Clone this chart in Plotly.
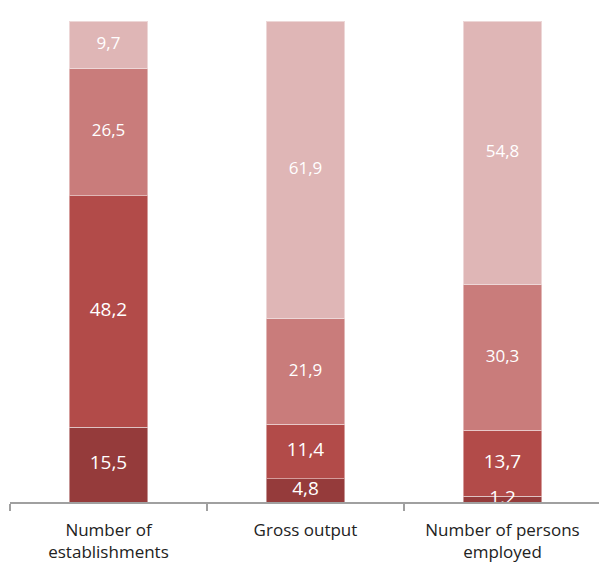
import plotly.graph_objects as go

categories = ["Number of<br>establishments", "Gross output", "Number of persons<br>employed"]
series_1 = [15.5, 4.8, 1.2]
series_2 = [48.2, 11.4, 13.7]
series_3 = [26.5, 21.9, 30.3]
series_4 = [9.7, 61.9, 54.8]

colors = ["#953B3B", "#B24B49", "#C97C7B", "#DFB6B6"]
text_sizes = [19, 19, 17, 17]

all_series = [series_1, series_2, series_3, series_4]

fig = go.Figure()
for vals, col in zip(all_series, colors):
    fig.add_trace(go.Bar(
        x=categories, y=vals,
        marker=dict(color=col, line=dict(color="rgba(255,255,255,0.45)", width=1)),
        showlegend=False, hoverinfo="skip",
    ))

# value labels drawn on top of all bars (centred in each stacked segment)
base = [0.0] * len(categories)
for vals, ts in zip(all_series, text_sizes):
    mids = [b + v / 2 for b, v in zip(base, vals)]
    fig.add_trace(go.Scatter(
        x=categories, y=mids, mode="text",
        text=[f"{v:.1f}".replace(".", ",") for v in vals],
        textposition="middle center",
        textfont=dict(color="white", size=ts, family="Open Sans"),
        cliponaxis=True, showlegend=False, hoverinfo="skip",
    ))
    base = [b + v for b, v in zip(base, vals)]

fig.update_layout(
    barmode="stack",
    bargap=0.6,
    width=599, height=565,
    margin=dict(l=10, r=0, t=21, b=63),
    plot_bgcolor="white", paper_bgcolor="white",
    font=dict(family="Open Sans", size=17, color="#222222"),
    xaxis=dict(
        type="category",
        range=[-0.5, 2.49],
        tickson="boundaries",
        ticks="outside", ticklen=7, tickwidth=1.5, tickcolor="#a0a0a0",
        showline=True, linecolor="#a0a0a0", linewidth=1.5,
        showgrid=False,
        ticklabelstandoff=12,
        tickfont=dict(size=17, color="#222222"),
    ),
    yaxis=dict(range=[0, 100], visible=False, showgrid=False, zeroline=False),
)

fig.write_html("out.html")
